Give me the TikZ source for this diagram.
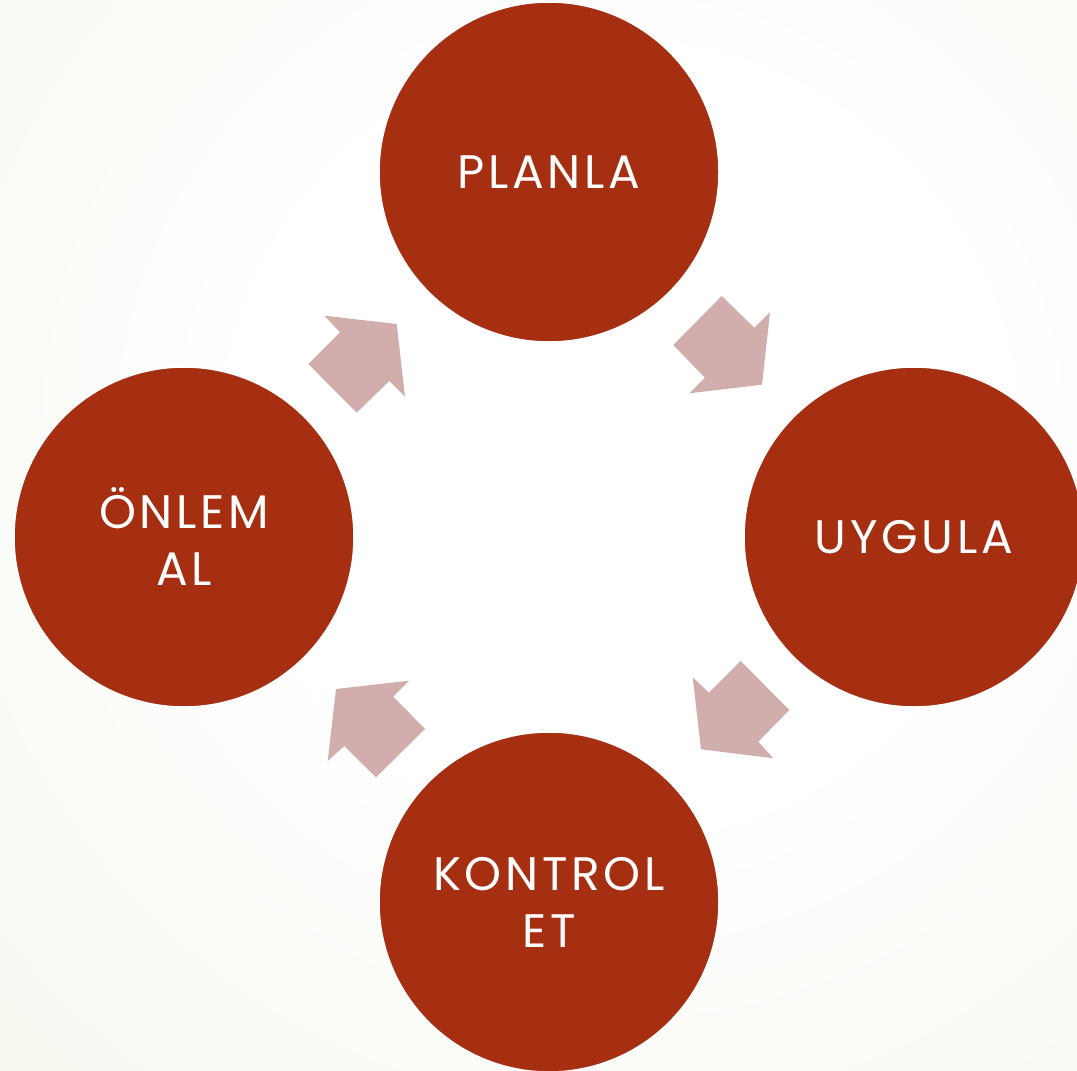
\documentclass[tikz,border=0pt]{standalone}
\usepackage{fontspec}
\setmainfont{Poppins}[LetterSpace=8]
\definecolor{rust}{RGB}{166,47,17}
\definecolor{arrowpink}{RGB}{209,174,171}
\definecolor{bgedge}{RGB}{231,239,214}
\pgfdeclareradialshading{bgshade}{\pgfpoint{0bp}{0bp}}{color(0bp)=(white); color(10bp)=(white); color(50bp)=(bgedge)}
\begin{document}
\begin{tikzpicture}[x=1pt,y=-1pt,
  circ/.style={circle, fill=rust, draw=white, line width=1.5pt, minimum size=340pt, inner sep=0pt,
    text=white, font=\fontsize{47}{57}\selectfont, align=center},
  blockarrow/.style={fill=arrowpink}]
\useasboundingbox (0,0) rectangle (1077,1071);
\clip (0,0) rectangle (1077,1071);
\fill[bgedge] (0,0) rectangle (1077,1071);
\shade[shading=bgshade] (620,440) circle (890);
% circles
\node[circ] (plan) at (549,172) {PLANLA};
\node[circ] (uyg) at (914,537) {UYGULA};
\node[circ] (kont) at (549,902) {KONTROL\\ET};
\node[circ] (onlem) at (184,537) {ÖNLEM\\AL};
% block arrows
\fill[blockarrow] (721.7,296) -- (754.3,327.7) -- (770,312.3) -- (762,384.7) -- (689.3,393.3) -- (705,377.7) -- (673.3,345) -- cycle;
\fill[blockarrow] (740.7,661) -- (789.3,710) -- (758.3,741.7) -- (773.3,758.3) -- (701,749.3) -- (692.7,677.3) -- (709,692.7) -- cycle;
\fill[blockarrow] (409,680.7) -- (393.3,696.7) -- (425,729) -- (376,777.3) -- (344.3,746) -- (327.7,761) -- (336,689) -- cycle;
\fill[blockarrow] (324.3,315.7) -- (396.7,324) -- (405,396.7) -- (389.3,381) -- (356.7,412.7) -- (308.3,364) -- (340,332.3) -- cycle;
\end{tikzpicture}
\end{document}
